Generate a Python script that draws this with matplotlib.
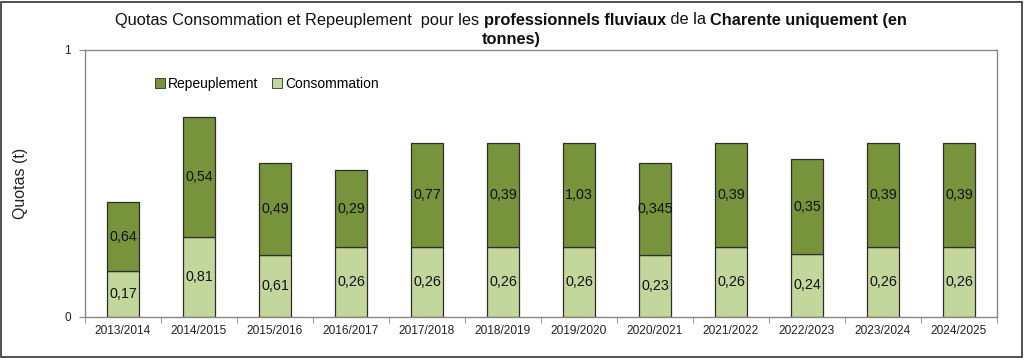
import matplotlib
matplotlib.use("Agg")
import matplotlib.pyplot as plt
from matplotlib.patches import Patch, Rectangle
import numpy as np

plt.rcParams['font.family'] = ['Liberation Sans', 'DejaVu Sans']

seasons = ["2013/2014", "2014/2015", "2015/2016", "2016/2017", "2017/2018", "2018/2019",
           "2019/2020", "2020/2021", "2021/2022", "2022/2023", "2023/2024", "2024/2025"]
consommation = [0.17, 0.30, 0.23, 0.26, 0.26, 0.26, 0.26, 0.23, 0.26, 0.235, 0.26, 0.26]
repeuplement = [0.26, 0.45, 0.345, 0.29, 0.39, 0.39, 0.39, 0.345, 0.39, 0.355, 0.39, 0.39]
consommation_labels = ["0,17", "0,81", "0,61", "0,26", "0,26", "0,26", "0,26", "0,23", "0,26", "0,24", "0,26", "0,26"]
repeuplement_labels = ["0,64", "0,54", "0,49", "0,29", "0,77", "0,39", "1,03", "0,345", "0,39", "0,35", "0,39", "0,39"]

c_dark = "#77933C"
c_light = "#C3D69B"
edge = "#2e2e2e"

fig = plt.figure(figsize=(10.24, 3.58), dpi=100)
ax = fig.add_axes([85/1024, 1-316.5/358, 912/1024, 266.5/358])

x = np.arange(len(seasons))
w = 0.41
ax.bar(x, consommation, w, color=c_light, edgecolor=edge, linewidth=0.9, zorder=2)
ax.bar(x, repeuplement, w, bottom=consommation, color=c_dark, edgecolor=edge, linewidth=0.9, zorder=2)

for i in range(len(seasons)):
    ax.text(x[i], consommation[i]/2, consommation_labels[i], ha='center', va='center',
            fontsize=10.3, color='#111111', zorder=3)
    ax.text(x[i], consommation[i] + repeuplement[i]/2, repeuplement_labels[i], ha='center',
            va='center', fontsize=10.3, color='#111111', zorder=3)

ax.set_xlim(-0.5, len(seasons)-0.5)
ax.set_ylim(0, 1)
ax.set_yticks([0, 1])
ax.set_yticklabels(["0", "1"], fontsize=8.5, color='#222222')
ax.set_xticks(x)
ax.set_xticklabels(seasons, fontsize=8.6, color='#222222')
ax.tick_params(axis='x', length=0, pad=6)
ax.tick_params(axis='y', length=4, color='#888888', pad=6)
ax.set_xticks(np.arange(-0.5, len(seasons)), minor=True)
ax.tick_params(axis='x', which='minor', length=4, color='#888888', direction='out')
for s in ax.spines.values():
    s.set_color('#888888')
    s.set_linewidth(1.0)

ax.set_ylabel("Quotas (t)", fontsize=11.5, color='#222222')
ax.yaxis.set_label_coords(-0.062, 0.5)

handles = [Patch(facecolor=c_dark, edgecolor=edge, linewidth=0.6),
           Patch(facecolor=c_light, edgecolor=edge, linewidth=0.6)]
ax.legend(handles, ["Repeuplement", "Consommation"], ncol=2, frameon=False,
          loc='center left', bbox_to_anchor=(0.063, 0.872), fontsize=10,
          handlelength=0.7, handleheight=0.7, handletextpad=0.25, columnspacing=1.0)

parts = [("Quotas Consommation et Repeuplement  pour les ", 'normal'),
         ("professionnels fluviaux", 'bold'),
         (" de la ", 'normal'),
         ("Charente uniquement (en", 'bold')]
fs = 11.8
renderer = fig.canvas.get_renderer()
texts = []
for s, wgt in parts:
    t = fig.text(0, 1-20/358, s, fontsize=fs, fontweight=wgt, va='center', ha='left', color='#111111')
    texts.append(t)
widths = [t.get_window_extent(renderer).width for t in texts]
total = sum(widths)
xpos = 511 - total/2
for t, wd in zip(texts, widths):
    t.set_x(xpos/1024)
    xpos += wd
fig.text(511/1024, 1-39.5/358, "tonnes)", fontsize=fs, fontweight='bold', ha='center', va='center', color='#111111')

fig.patches.append(Rectangle((1/1024, 1/358), 1021/1024, 355/358, transform=fig.transFigure,
                             fill=False, edgecolor='#333333', linewidth=1.2))

fig.savefig("out.png", dpi=100)
